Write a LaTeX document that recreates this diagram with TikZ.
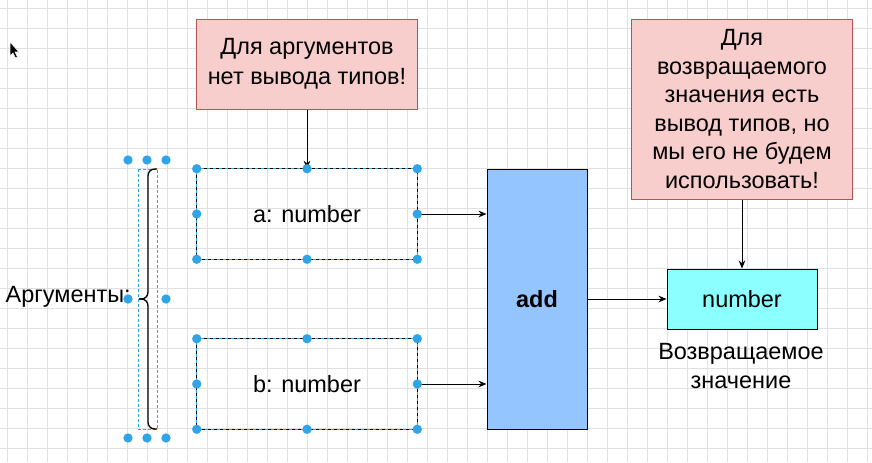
\documentclass[tikz,border=0pt]{standalone}
\usepackage{fontspec}
\setmainfont{Liberation Sans}
\usetikzlibrary{arrows.meta}

\definecolor{notefill}{HTML}{F8CECC}
\definecolor{notedraw}{HTML}{B85450}
\definecolor{addfill}{HTML}{94C5FF}
\definecolor{retfill}{HTML}{8CFFFF}
\definecolor{handle}{HTML}{2FA4E7}
\definecolor{gridline}{HTML}{E0E0E0}
\newcommand\diagfont{\fontsize{17.6pt}{21.4pt}\selectfont}

\tikzset{
  note/.style={draw=notedraw,fill=notefill,line width=0.75pt,align=center,inner sep=0pt,font=\diagfont},
  argbox/.style={minimum width=165pt,minimum height=67.5pt,inner sep=0pt,font=\diagfont},
  plainbox/.style={draw,line width=0.75pt,inner sep=0pt,font=\diagfont},
  conn/.style={-{Stealth[length=6pt,width=5pt]},line width=0.75pt},
  grip/.style={fill=handle},
}

\begin{document}
\begin{tikzpicture}[x=0.75pt,y=-0.75pt]
\useasboundingbox (0,0) rectangle (872,462);
\fill[white] (0,0) rectangle (872,462);
\foreach \gx in {7,27,...,867} \draw[gridline,line width=0.75pt] (\gx,0) -- (\gx,462);
\foreach \gy in {8,28,...,448} \draw[gridline,line width=0.75pt] (0,\gy) -- (872,\gy);

% mouse pointer
\filldraw[fill=black,draw=white,line width=0.4pt] (10,42) -- (10,56) -- (13,53) -- (15.5,58) -- (17.5,57) -- (15,52) -- (19,52) -- cycle;

\node[note,minimum width=165.75pt,minimum height=67.5pt,font=\fontsize{17.6pt}{22.5pt}\selectfont] (noarg) at (307,64) {Для аргументов\\нет вывода типов!};
\node[note,minimum width=165.75pt,minimum height=135pt] (yesret) at (742,109) {Для\\возвращаемого\\значения есть\\вывод типов, но\\мы его не будем\\использовать!};

\node[argbox] (a) at (307,214) {a: number};
\node[argbox] (b) at (307,384) {b: number};
\node[plainbox,fill=addfill,minimum width=75pt,minimum height=195pt,font=\diagfont\bfseries] (add) at (537,299) {add};
\node[plainbox,fill=retfill,minimum width=112.5pt,minimum height=45pt] (ret) at (742,299) {number};
\node[font=\diagfont,align=center,inner sep=0pt] (retlbl) at (741,366) {Возвращаемое\\значение};
\node[font=\diagfont,anchor=east,inner sep=0pt] (args) at (131,297) {Аргументы:};

\foreach \n in {a,b} {
  \draw[handle,line width=0.75pt] (\n.north west) rectangle (\n.south east);
  \draw[dash pattern=on 2.25pt off 2.25pt,line width=0.75pt] (\n.north west) rectangle (\n.south east);
}

% brace
\draw[handle,dash pattern=on 2.25pt off 1.5pt,line width=0.75pt] (138,169) rectangle (157,429);
\draw[line width=1pt,rounded corners=5pt] (157,169) -- (148,169) -- (148,299) -- (139,299);
\draw[line width=1pt,rounded corners=5pt] (139,299) -- (148,299) -- (148,429) -- (157,429);

\draw[conn] (noarg.south) -- (a.north);
\draw[conn] (a.east) -- (a.east -| add.west);
\draw[conn] (b.east) -- (b.east -| add.west);
\draw[conn] (add.east) -- (ret.west);
\draw[conn] (yesret.south) -- (ret.north);

\foreach \n in {a,b}
  \foreach \an in {north west,north,north east,east,south east,south,south west,west}
    \fill[grip] (\n.\an) circle (3.5pt);
\foreach \p in {(128,160),(147,160),(166,160),(128,299),(166,299),(128,438),(147,438),(166,438)}
  \fill[grip] \p circle (3.5pt);
\end{tikzpicture}
\end{document}
